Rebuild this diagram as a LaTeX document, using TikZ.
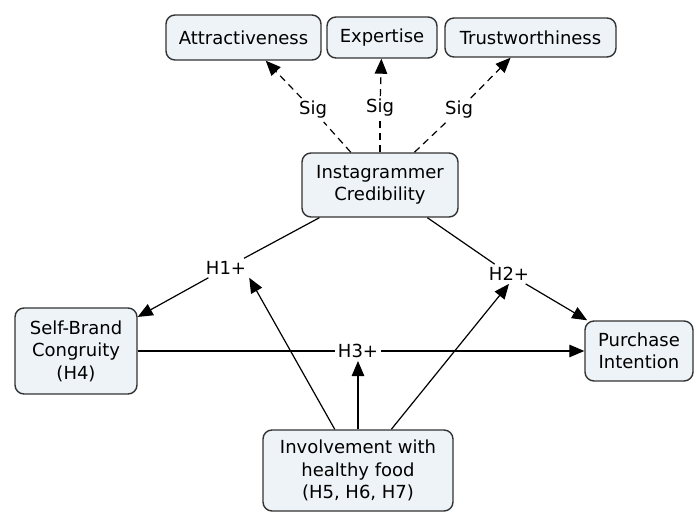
\documentclass[tikz,border=0pt]{standalone}
\usepackage{fontspec}
\setmainfont{DejaVu Sans}
\usetikzlibrary{arrows.meta}

\definecolor{boxfill}{HTML}{EDF3F7}
\definecolor{boxline}{HTML}{333333}

\tikzset{
  concept/.style={draw=boxline, line width=1.4pt, fill=boxfill,
    rounded corners=9pt, align=center, inner sep=0pt,
    font=\fontsize{18}{22.5}\selectfont},
  linkword/.style={inner sep=3pt, font=\fontsize{18}{22.5}\selectfont},
  plainlink/.style={line width=1.2pt},
  siglink/.style={line width=1.2pt, dash pattern=on 7pt off 5pt}
}

\begin{document}
\begin{tikzpicture}[x=1pt, y=-1pt, >={Triangle[length=15pt,width=12.5pt]}]
  \useasboundingbox (0,0) rectangle (697,512);
  % concepts
  \node[concept, minimum width=155pt, minimum height=45pt] (attr) at (243.5,37.5) {Attractiveness};
  \node[concept, minimum width=110pt, minimum height=41pt] (expe) at (382,37.5) {Expertise};
  \node[concept, minimum width=171pt, minimum height=39pt] (trust) at (530.5,37.5) {Trustworthiness};
  \node[concept, minimum width=156pt, minimum height=64pt] (cred) at (380,185) {Instagrammer\\Credibility};
  \node[concept, minimum width=122pt, minimum height=86pt] (sbc) at (76,351) {Self-Brand\\Congruity\\(H4)};
  \node[concept, minimum width=108pt, minimum height=60pt] (pi) at (639,351) {Purchase\\Intention};
  \node[concept, minimum width=190pt, minimum height=81pt] (inv) at (358,470.5) {Involvement with\\healthy food\\(H5, H6, H7)};
  % linking words
  \node[linkword] (sig1) at (313,110) {Sig};
  \node[linkword] (sig2) at (380,108) {Sig};
  \node[linkword] (sig3) at (459,110) {Sig};
  \node[linkword] (h1) at (226,268) {H1+};
  \node[linkword] (h2) at (509,274) {H2+};
  \node[linkword] (h3) at (358,351) {H3+};
  % credibility dimensions
  \draw[siglink] (cred) -- (sig1);
  \draw[siglink, ->] (sig1) -- (attr);
  \draw[siglink] (cred) -- (sig2);
  \draw[siglink, ->] (sig2) -- (expe);
  \draw[siglink] (cred) -- (sig3);
  \draw[siglink, ->] (sig3) -- (trust);
  % hypotheses
  \draw[plainlink] (cred) -- (h1);
  \draw[plainlink, ->] (h1) -- (sbc);
  \draw[plainlink] (cred) -- (h2);
  \draw[plainlink, ->] (h2) -- (pi);
  \draw[plainlink] (sbc) -- (h3);
  \draw[plainlink, ->] (h3) -- (pi);
  % moderator
  \draw[plainlink, ->] (inv) -- (h1.south east);
  \draw[plainlink, ->] (inv) -- (h2.south);
  \draw[plainlink, ->] (inv) -- (h3);
\end{tikzpicture}
\end{document}
